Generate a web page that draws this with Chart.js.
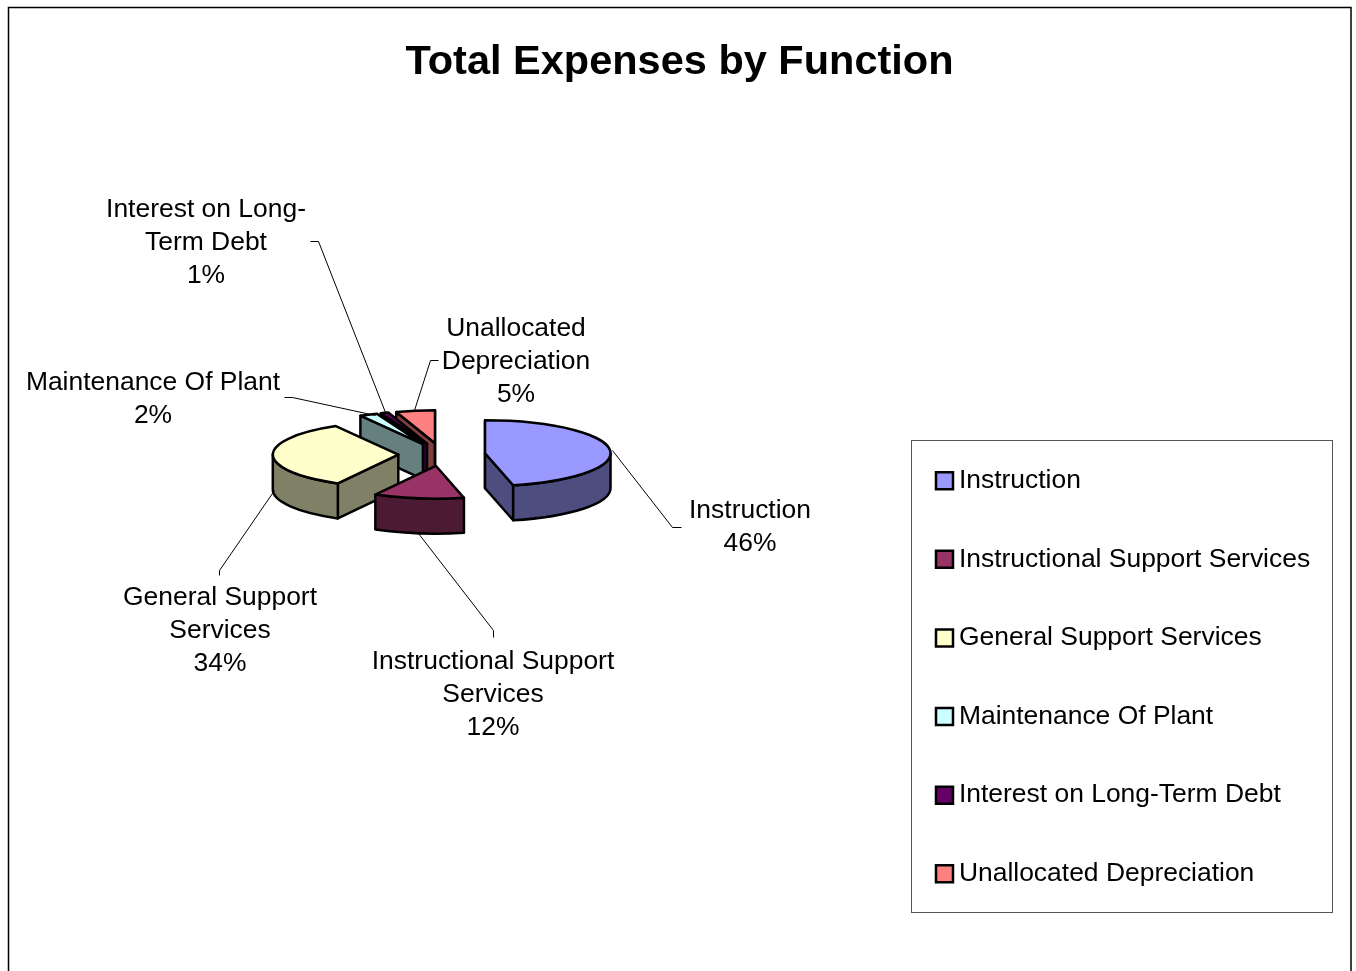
<!DOCTYPE html>
<html>
<head>
<meta charset="utf-8">
<title>Total Expenses by Function</title>
<script src="https://cdn.jsdelivr.net/npm/chart.js@4/dist/chart.umd.js"></script>
<style>
html,body{margin:0;padding:0;background:#fff;overflow:hidden}
canvas{display:block}
</style>
</head>
<body>
<canvas id="c" width="1356" height="971"></canvas>
<script>
const chartTitle = 'Total Expenses by Function';
const categories = ['Instruction','Instructional Support Services','General Support Services','Maintenance Of Plant','Interest on Long-Term Debt','Unallocated Depreciation'];
const percentValues = [46.4,11.6,33.7,2.3,1,5];
const sliceColors = ['#9999FF','#993366','#FFFFCC','#CCFFFF','#660066','#FF8080'];
const labelLines = [['Instruction'],['Instructional Support','Services'],['General Support','Services'],['Maintenance Of Plant'],['Interest on Long-','Term Debt'],['Unallocated','Depreciation']];

// layout only
const FONT = '"Liberation Sans", Arial, sans-serif';
const SQUASH = 0.262, DEPTH = 35, EXPLODE = 174;
const labelAnchors = [[750,511],[493,662],[220,598],[153,383],[206,210],[516,329]];
const leaders = [
  [[612,450],[672,527],[681,527]],
  [[418,533],[493,630],[493,637]],
  [[274,490],[219,570],[219,575]],
  [[375,415],[292,397],[284,397]],
  [[385,412],[318,241],[310,241]],
  [[414,410],[430,360],[438,360]]
];

function darken(hex){
  const n = parseInt(hex.slice(1),16);
  const f = v => Math.round(v*0.5);
  return `rgb(${f(n>>16&255)},${f(n>>8&255)},${f(n&255)})`;
}

const pie3d = {
  id:'pie3d',
  afterLayout(chart){
    const l = chart.legend, t = chart.titleBlock, p = l.options.labels.padding;
    l.left = 943.3 - p; l.right = l.left + l.width;
    l.top = 467.5 - p; l.bottom = l.top + l.height;
    t.left = 0; t.right = 1359; t.top = 38; t.bottom = 88;
  },
  beforeDraw(chart){
    const c = chart.ctx;
    c.save();
    c.fillStyle='#fff'; c.fillRect(0,0,chart.width,chart.height);
    c.strokeStyle='#000'; c.lineWidth=1.5;
    c.strokeRect(8.5,7.5,1342.5,1000);
    c.strokeStyle='#555'; c.lineWidth=1;
    c.strokeRect(911.5,440.5,421,472);
    c.restore();
  },
  beforeDatasetDraw(chart,args){
    const c = chart.ctx, meta = args.meta;
    c.save();
    c.lineJoin='round';
    c.lineWidth=2.5;
    c.strokeStyle='#000';
    for(let i=meta.data.length-1;i>=0;i--){
      const arc = meta.data[i];
      const {x,y,startAngle:a0,endAngle:a1,outerRadius} = arc.getProps(['x','y','startAngle','endAngle','outerRadius'],true);
      const off = arc.options.offset/4, mid=(a0+a1)/2;
      const R = outerRadius+off, ry = R*SQUASH;
      const cx = x+Math.cos(mid)*off, cy = y+Math.sin(mid)*off*SQUASH;
      const pt = a => [cx+Math.cos(a)*R, cy+Math.sin(a)*ry];
      const wall = darken(sliceColors[i]);
      const quad = a => {
        const p = pt(a);
        c.beginPath();
        c.moveTo(cx,cy); c.lineTo(p[0],p[1]); c.lineTo(p[0],p[1]+DEPTH); c.lineTo(cx,cy+DEPTH); c.closePath();
        c.fillStyle=wall; c.fill(); c.stroke();
      };
      // radial walls that face the viewer
      if(Math.cos(a0) < 0.001 ) quad(a0);
      if(Math.cos(a1) > -0.001 ) quad(a1);
      // outer wall on the near half of the rim
      const twoPi=2*Math.PI;
      for(let k=-1;k<=1;k++){
        const lo=Math.max(a0,k*twoPi), hi=Math.min(a1,k*twoPi+Math.PI);
        if(hi>lo){
          c.beginPath();
          c.ellipse(cx,cy,R,ry,0,lo,hi);
          c.ellipse(cx,cy+DEPTH,R,ry,0,hi,lo,true);
          c.closePath();
          c.fillStyle=wall; c.fill(); c.stroke();
        }
      }
      // top face
      c.beginPath();
      c.moveTo(cx,cy);
      c.ellipse(cx,cy,R,ry,0,a0,a1);
      c.closePath();
      c.fillStyle=sliceColors[i]; c.fill(); c.stroke();
    }
    c.restore();
    return false;
  },
  afterDatasetsDraw(chart){
    const c = chart.ctx;
    c.save();
    c.strokeStyle='#000'; c.lineWidth=1;
    leaders.forEach(pts=>{
      c.beginPath();
      pts.forEach((p,k)=> k? c.lineTo(p[0]+.5,p[1]+.5): c.moveTo(p[0]+.5,p[1]+.5));
      c.stroke();
    });
    c.fillStyle='#000';
    c.font='26.45px '+FONT;
    c.textAlign='center'; c.textBaseline='middle';
    percentValues.forEach((v,i)=>{
      const [ax,ay]=labelAnchors[i];
      labelLines[i].concat([Math.round(v)+'%']).forEach((s,k)=>c.fillText(s,ax,ay+k*33));
    });
    c.restore();
  }
};

new Chart(document.getElementById('c'),{
  type:'pie',
  plugins:[pie3d],
  data:{
    labels:categories,
    datasets:[{
      data:percentValues,
      backgroundColor:sliceColors,
      borderColor:'#000',
      borderWidth:2.5,
      offset:EXPLODE,
      hoverOffset:EXPLODE
    }]
  },
  options:{
    responsive:false,
    animation:false,
    radius:82,
    rotation:0,
    layout:{padding:{left:0,right:472.4,top:0,bottom:111.8}},
    plugins:{
      tooltip:{enabled:false},
      title:{display:true,text:chartTitle,color:'#000',padding:0,
        font:{family:FONT,size:41.5,weight:'bold',lineHeight:1.2}},
      legend:{
        position:'chartArea',
        align:'start',
        labels:{
          color:'#000',
          font:{family:FONT,size:26.45,lineHeight:1.2},
          usePointStyle:true,
          pointStyle:'rect',
          boxWidth:2.4,
          boxHeight:17,
          padding:52.15
        }
      }
    }
  }
});
</script>
</body>
</html>
